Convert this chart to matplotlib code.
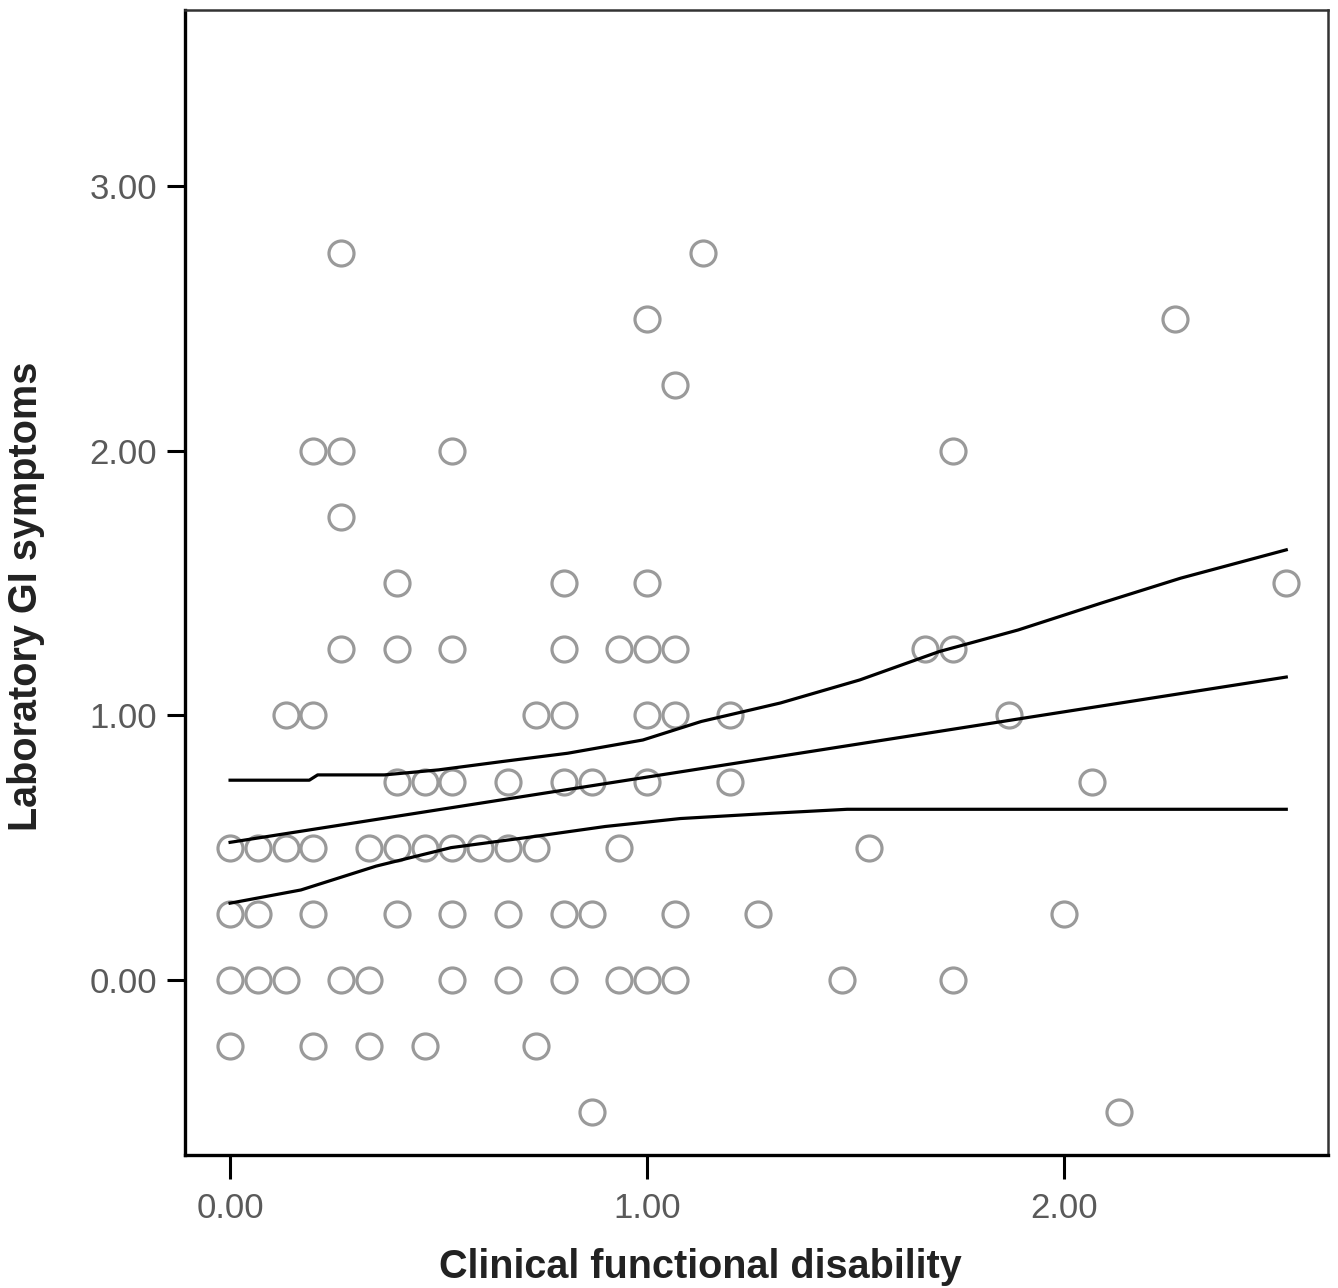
import matplotlib
matplotlib.use("Agg")
import matplotlib.pyplot as plt

plt.rcParams['font.family'] = ['Liberation Sans', 'DejaVu Sans']

# scatter points: x on a 1/15 grid, y on a 0.25 grid
disability = [
    0, 0.2, 0.333, 0.467, 0.733,
    0.867, 2.133,
    0, 0.067, 0.133, 0.267, 0.333, 0.533, 0.667, 0.8, 0.933, 1.0, 1.067, 1.467, 1.733,
    0, 0.067, 0.2, 0.4, 0.533, 0.667, 0.8, 0.867, 1.067, 1.267, 2.0,
    0, 0.067, 0.133, 0.2, 0.333, 0.4, 0.467, 0.533, 0.6, 0.667, 0.733, 0.933, 1.533,
    0.4, 0.467, 0.533, 0.667, 0.8, 0.867, 1.0, 1.2, 2.067,
    0.133, 0.2, 0.733, 0.8, 1.0, 1.067, 1.2, 1.867,
    0.267, 0.4, 0.533, 0.8, 0.933, 1.0, 1.067, 1.667, 1.733,
    0.4, 0.8, 1.0, 2.533,
    0.267,
    0.2, 0.267, 0.533, 1.733,
    1.067,
    1.0, 2.267,
    0.267, 1.133,
]
gi_symptoms = (
    [-0.25] * 5 + [-0.5] * 2 + [0.0] * 13 + [0.25] * 11 + [0.5] * 13
    + [0.75] * 9 + [1.0] * 8 + [1.25] * 9 + [1.5] * 4 + [1.75] * 1
    + [2.0] * 4 + [2.25] * 1 + [2.5] * 2 + [2.75] * 2
)

# fit line and confidence band
fit_x = [0.0, 2.533]
fit_y = [0.52, 1.145]
upper_x = [0.0, 0.19, 0.21, 0.37, 0.5, 0.65, 0.81, 0.99, 1.13, 1.32, 1.51, 1.70, 1.89, 2.09, 2.28, 2.533]
upper_y = [0.755, 0.755, 0.775, 0.775, 0.794, 0.825, 0.857, 0.907, 0.977, 1.047, 1.134, 1.241, 1.323, 1.425, 1.519, 1.626]
lower_x = [0.0, 0.17, 0.35, 0.53, 0.72, 0.9, 1.08, 1.3, 1.48, 2.533]
lower_y = [0.29, 0.34, 0.43, 0.50, 0.54, 0.58, 0.61, 0.63, 0.645, 0.645]

x_ticks = [0, 1, 2]
y_ticks = [0, 1, 2, 3]

fig = plt.figure(figsize=(13.38, 12.88), dpi=100)
ax = fig.add_axes([0.1383, 0.1033, 0.8542, 0.8889])

ax.plot(disability, gi_symptoms, linestyle='none', marker='o', markersize=18,
        markerfacecolor='none', markeredgecolor='#9a9a9a', markeredgewidth=2.3, zorder=2)

for xs, ys in [(fit_x, fit_y), (upper_x, upper_y), (lower_x, lower_y)]:
    ax.plot(xs, ys, color='black', linewidth=2.3, zorder=3)

ax.set_xlim(-0.108, 2.633)
ax.set_ylim(-0.662, 3.667)
ax.set_xticks(x_ticks)
ax.set_xticklabels([f"{v:.2f}" for v in x_ticks])
ax.set_yticks(y_ticks)
ax.set_yticklabels([f"{v:.2f}" for v in y_ticks])

ax.tick_params(axis='both', direction='out', width=2.2, colors='black',
               labelsize=25, labelcolor='#5a5a5a')
ax.tick_params(axis='x', length=17, pad=10)
ax.tick_params(axis='y', length=13, pad=7)

for side in ['left', 'bottom']:
    ax.spines[side].set_linewidth(2.4)
    ax.spines[side].set_color('black')
for side in ['top', 'right']:
    ax.spines[side].set_linewidth(1.8)
    ax.spines[side].set_color('#333333')

ax.set_xlabel("Clinical functional disability", fontsize=28.5, fontweight='bold',
              color='#222222')
ax.set_ylabel("Laboratory GI symptoms", fontsize=28.5, fontweight='bold',
              color='#222222')
ax.xaxis.set_label_coords(0.4506, -0.0812)
ax.yaxis.set_label_coords(-0.1225, 0.488)

fig.savefig("out.png", dpi=100)
